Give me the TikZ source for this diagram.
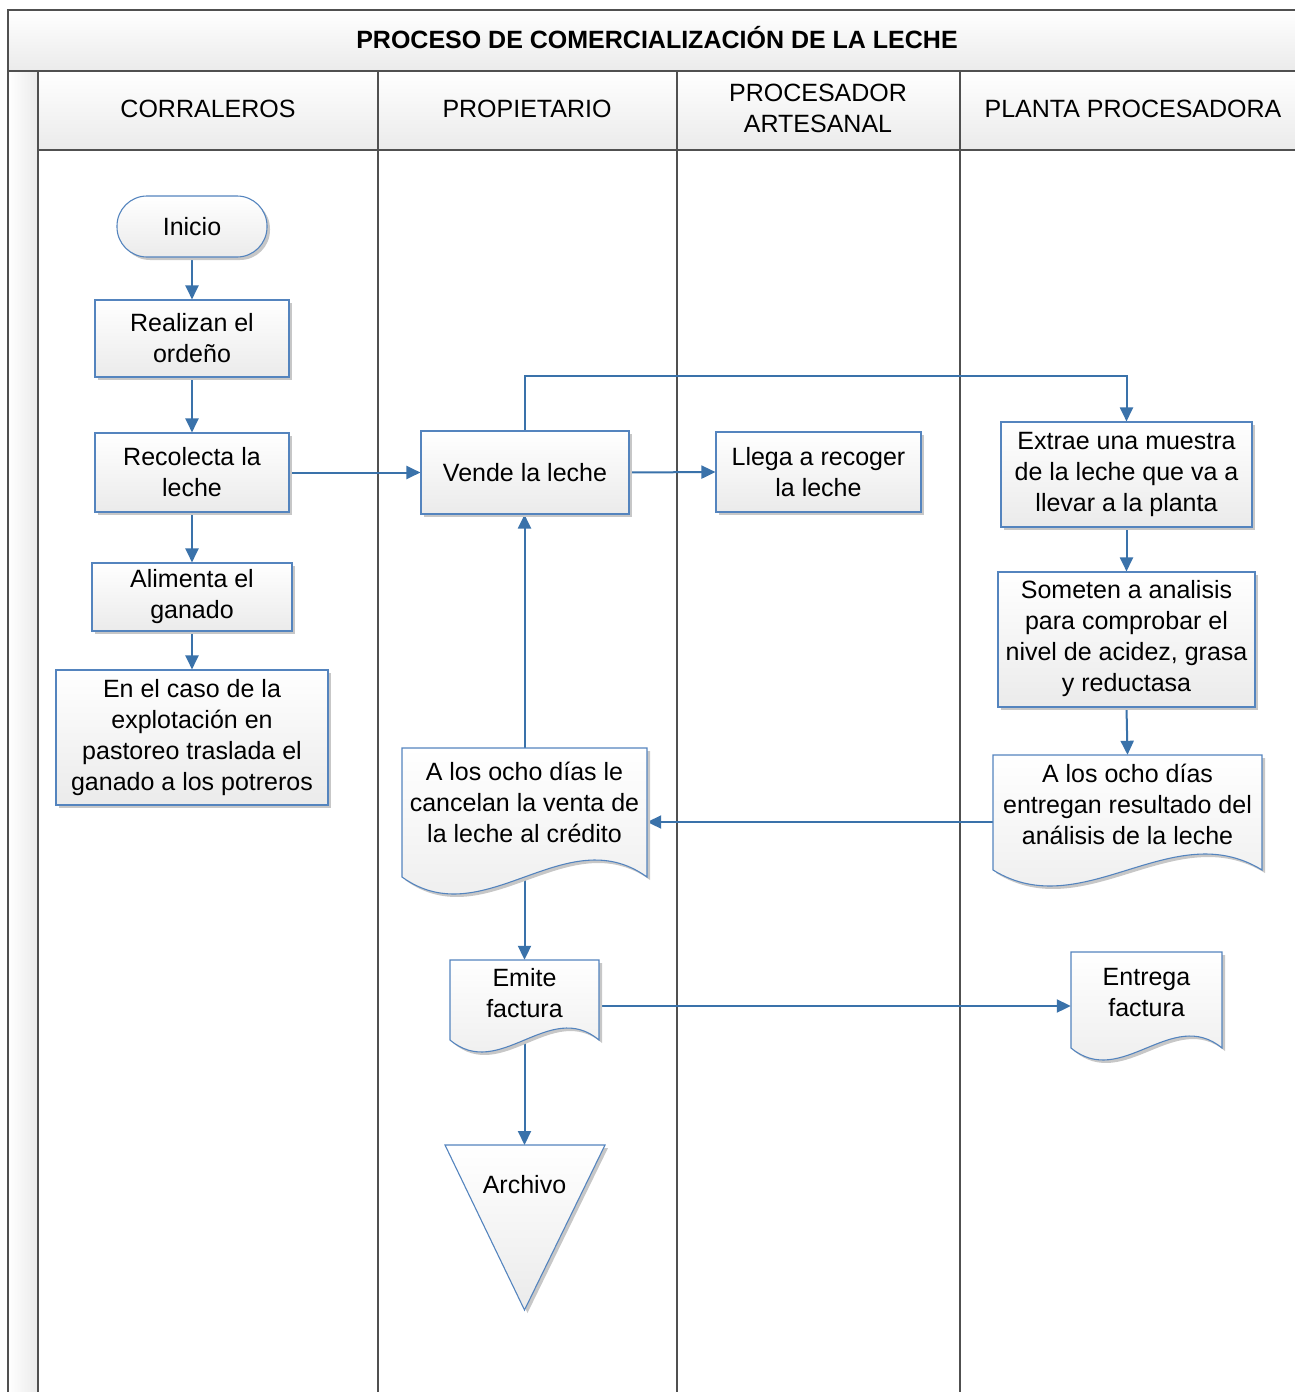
\documentclass[tikz,border=0pt]{standalone}
\usepackage{fontspec}
\setmainfont{Liberation Sans}
\usetikzlibrary{arrows.meta,shadows,calc}
\definecolor{flow}{RGB}{58,114,170}
\definecolor{nodeb}{RGB}{84,132,190}
\definecolor{lanec}{RGB}{80,80,80}
\pgfdeclarelayer{bg}\pgfdeclarelayer{cn}\pgfsetlayers{bg,cn,main}
\newcommand{\wavepath}[5]{(#1,#2) -- (#3,#2) -- (#3,#4) .. controls ({#1+2*(#3-#1)/3},{#4-3.46*#5}) and ({#1+(#3-#1)/3},{#4+3.46*#5}) .. (#1,#4) -- cycle}
\newcommand{\wavedoc}[5]{%
  \fill[black!22,shift={(3,3)}] \wavepath{#1}{#2}{#3}{#4}{#5};
  \path[docshape] \wavepath{#1}{#2}{#3}{#4}{#5};}
\begin{document}
\begin{tikzpicture}[x=1pt,y=-1pt,
  font=\fontsize{25}{31}\selectfont,
  lane/.style={draw=lanec,line width=2pt},
  box/.style={draw=nodeb,line width=1.1pt,top color=white,bottom color=black!8,align=center,inner sep=0pt,
    drop shadow={shadow xshift=3pt,shadow yshift=-3pt,fill=black!22,opacity=1}},
  docshape/.style={draw=nodeb,line width=1.1pt,top color=white,bottom color=black!8},
  frame/.style={inner sep=0pt,draw=none},
  txt/.style={align=center,inner sep=0pt,text=black},
  flowarrow/.style={draw=flow,line width=2pt,-{Triangle[length=14pt,width=13pt]}},
  flowline/.style={draw=flow,line width=2pt}
]
\useasboundingbox (0,0) rectangle (1295,1392);
% ---- pool and lanes
\begin{pgfonlayer}{bg}
  \shade[top color=white,bottom color=black!8] (8,10) rectangle (1295,71);
  \shade[top color=white,bottom color=black!8] (38,71) rectangle (1295,150);
  \shade[left color=white,right color=black!8] (8,71) rectangle (38,1392);
  \draw[lane] (1295,10) -- (8,10) -- (8,1392);
  \draw[lane] (8,71) -- (1295,71);
  \draw[lane] (38,150) -- (1295,150);
  \foreach \x in {38,378,677,960} \draw[lane] (\x,71) -- (\x,1392);
\end{pgfonlayer}
\node[txt,font=\bfseries\fontsize{25}{31}\selectfont] (title) at (657,37.5) {PROCESO DE COMERCIALIZACIÓN DE LA LECHE};
\node[txt] (h1) at (208,109) {CORRALEROS};
\node[txt] (h2) at (527,109) {PROPIETARIO};
\node[txt] (h3) at (818,108.5) {PROCESADOR\\ARTESANAL};
\node[txt] (h4) at (1133,109) {PLANTA PROCESADORA};
% ---- process nodes
\node[box,rounded corners=30pt,minimum width=150pt,minimum height=61pt] (inicio) at (192,226.5) {Inicio};
\node[box,minimum width=194pt,minimum height=77pt] (ordeno) at (192,338.5) {Realizan el\\ordeño};
\node[box,minimum width=194pt,minimum height=79pt] (recolecta) at (192,472.5) {Recolecta la\\leche};
\node[box,minimum width=200pt,minimum height=68pt] (alimenta) at (192,597) {Alimenta el\\ganado};
\node[box,minimum width=272pt,minimum height=135pt] (caso) at (192,737.5) {En el caso de la\\explotación en\\pastoreo traslada el\\ganado a los potreros};
\node[box,minimum width=208pt,minimum height=83pt] (vende) at (525,472.5) {Vende la leche};
\node[box,minimum width=205pt,minimum height=80pt] (llega) at (818.5,472) {Llega a recoger\\la leche};
\node[box,minimum width=251pt,minimum height=105pt] (extrae) at (1126.5,474.5) {Extrae una muestra\\de la leche que va a\\llevar a la planta};
\node[box,minimum width=257pt,minimum height=135pt] (someten) at (1126.5,639.5) {};
\node[txt] (sometent) at (1126.5,638.5) {Someten a analisis\\para comprobar el\\nivel de acidez, grasa\\y reductasa};
% ---- documents
\wavedoc{402}{748}{647}{877}{17}
\node[frame,minimum width=245pt,minimum height=129pt] (cancel) at (524.5,812.5) {};
\node[txt] (cancelt) at (524.5,802) {A los ocho días le\\cancelan la venta de\\la leche al crédito};
\wavedoc{993}{755}{1262}{870}{16}
\node[frame,minimum width=269pt,minimum height=115pt] (entregan) at (1127.5,812.5) {};
\node[txt] (entregant) at (1127.5,804) {A los ocho días\\entregan resultado del\\análisis de la leche};
\wavedoc{450}{960}{599}{1040}{12}
\node[frame,minimum width=149pt,minimum height=80pt] (emite) at (524.5,1000) {};
\node[txt] (emitet) at (524.5,993.5) {Emite\\factura};
\wavedoc{1071}{952}{1222}{1048}{12}
\node[frame,minimum width=151pt,minimum height=96pt] (entrega) at (1146.5,1000) {};
\node[txt] (entregat) at (1146.5,992.5) {Entrega\\factura};
% ---- archive triangle
\fill[black!22,shift={(3,3)}] (445,1145) -- (605,1145) -- (524.5,1310) -- cycle;
\path[docshape] (445,1145) -- (605,1145) -- (524.5,1310) -- cycle;
\coordinate (archtop) at (524.5,1145);
\node[txt] (archivo) at (524.5,1185) {Archivo};
% ---- connectors
\begin{pgfonlayer}{cn}
  \draw[flowarrow] (inicio) -- (ordeno);
  \draw[flowarrow] (ordeno) -- (recolecta);
  \draw[flowarrow] (recolecta) -- (alimenta);
  \draw[flowarrow] (alimenta) -- (caso);
  \draw[flowarrow] (recolecta.east) -- (vende.west);
  \draw[flowarrow] (vende.east) -- (llega.west);
  \draw[flowarrow] (vende.north) -- ++(0,-54) -| (extrae.north);
  \draw[flowarrow] (extrae.south) -- (someten.north);
  \draw[flowarrow] (someten.south) -- (entregan.north);
  \draw[flowarrow] ([yshift=-9.5pt]entregan.west) -- ([yshift=-9.5pt]entregan.west -| cancel.east);
  \draw[flowarrow] (cancel.north) -- (cancel.north |- vende.south);
  \draw[flowarrow] (cancel.south) -- (emite.north);
  \draw[flowarrow] ([yshift=-6pt]emite.east) -- ([yshift=-6pt]emite.east -| entrega.west);
  \draw[flowarrow] (emite.south) -- (archtop);
\end{pgfonlayer}
\end{tikzpicture}
\end{document}
